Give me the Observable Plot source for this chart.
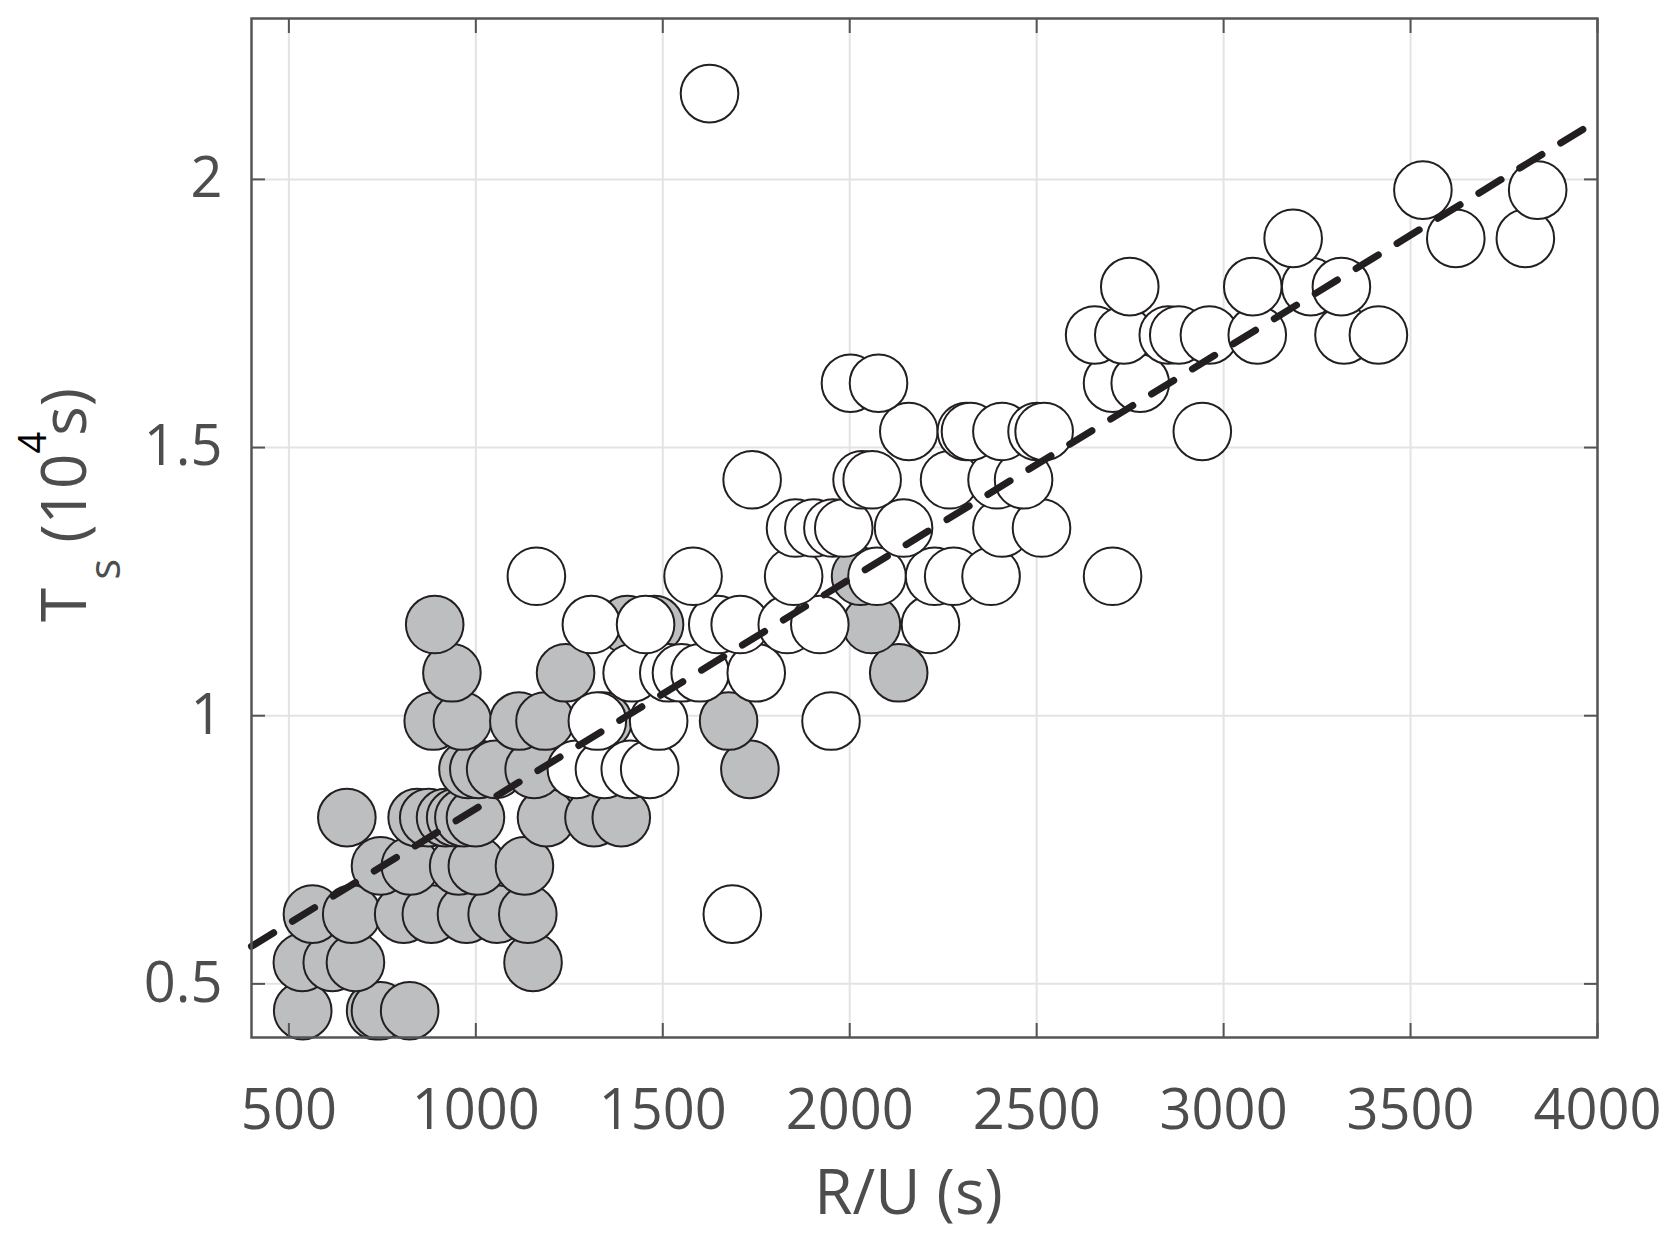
<!DOCTYPE html>
<html>
<head>
<meta charset="utf-8">
<script src="https://cdn.jsdelivr.net/npm/d3@7"></script>
<script src="https://cdn.jsdelivr.net/npm/@observablehq/plot@0.6"></script>
<style>
  html, body { margin: 0; padding: 0; background: #ffffff; }
  #chart svg { display: block; }
</style>
</head>
<body>
<div id="chart"></div>
<script>
// ---- tick values ----
const xTicks = [500, 1000, 1500, 2000, 2500, 3000, 3500, 4000];
const yTicks = [0.5, 1, 1.5, 2];

// ---- filled (grey) markers: R/U (s) and Ts (10^4 s) ----
const filledRU = [
  537, 732, 745, 823,
  536, 616, 678, 1153,
  563, 668, 807, 881, 975, 1057, 1139,
  745, 825, 954, 1004, 1130,
  655, 843, 874, 919, 946, 968, 999, 1189, 1316, 1389,
  979, 1008, 1053, 1156, 1733,
  886, 964, 1115, 1185, 1340, 1676,
  936, 1240, 2131,
  890, 1405, 1478, 2058,
  2029
];
const filledTs = [
  0.45, 0.45, 0.45, 0.45,
  0.54, 0.54, 0.54, 0.54,
  0.63, 0.63, 0.63, 0.63, 0.63, 0.63, 0.63,
  0.72, 0.72, 0.72, 0.72, 0.72,
  0.81, 0.81, 0.81, 0.81, 0.81, 0.81, 0.81, 0.81, 0.81, 0.81,
  0.9, 0.9, 0.9, 0.9, 0.9,
  0.99, 0.99, 0.99, 0.99, 0.99, 0.99,
  1.08, 1.08, 1.08,
  1.17, 1.17, 1.17, 1.17,
  1.26
];

// ---- open (white) markers ----
const openRU = [
  1686,
  1269, 1344, 1413, 1465,
  1325, 1489, 1950,
  1418, 1516, 1550, 1600, 1750,
  1309, 1454, 1647, 1707, 1833, 1920, 2216,
  1162, 1581, 1850, 2073, 2227, 2278, 2378, 2703,
  1855, 1904, 1955, 1984, 2144, 2407, 2513,
  1739, 2033, 2060, 2267, 2394, 2465,
  2158, 2312, 2323, 2407, 2501, 2520, 2943,
  2002, 2077, 2703, 2777,
  2655, 2733, 2852, 2880, 2962, 3090, 3322, 3414,
  2749, 3078, 3233, 3315,
  3186, 3621, 3807,
  3533, 3840,
  1625
];
const openTs = [
  0.63,
  0.9, 0.9, 0.9, 0.9,
  0.99, 0.99, 0.99,
  1.08, 1.08, 1.08, 1.08, 1.08,
  1.17, 1.17, 1.17, 1.17, 1.17, 1.17, 1.17,
  1.26, 1.26, 1.26, 1.26, 1.26, 1.26, 1.26, 1.26,
  1.35, 1.35, 1.35, 1.35, 1.35, 1.35, 1.35,
  1.44, 1.44, 1.44, 1.44, 1.44, 1.44,
  1.53, 1.53, 1.53, 1.53, 1.53, 1.53, 1.53,
  1.62, 1.62, 1.62, 1.62,
  1.71, 1.71, 1.71, 1.71, 1.71, 1.71, 1.71, 1.71,
  1.8, 1.8, 1.8, 1.8,
  1.89, 1.89, 1.89,
  1.98, 1.98,
  2.16
];

// ---- fitted line (endpoints) ----
const fitRU = [400, 4000];
const fitTs = [0.57, 2.11];

const filled = filledRU.map((x, i) => ({x, y: filledTs[i]}));
const open = openRU.map((x, i) => ({x, y: openTs[i]}));
const fit = fitRU.map((x, i) => ({x, y: fitTs[i]}));

const axisColor = "#555555";
const textColor = "#4d4d4d";

const plot = Plot.plot({
  width: 1671,
  height: 1241,
  marginLeft: 251,
  marginRight: 74,
  marginTop: 18,
  marginBottom: 204,
  style: {fontFamily: "'Open Sans', 'DejaVu Sans', sans-serif", background: "#ffffff", color: textColor},
  x: {domain: [400, 4000]},
  y: {domain: [0.4, 2.3]},
  marks: [
    Plot.gridX(xTicks, {stroke: "#e3e3e3", strokeOpacity: 1, strokeWidth: 2}),
    Plot.gridY(yTicks, {stroke: "#e3e3e3", strokeOpacity: 1, strokeWidth: 2}),
    Plot.dot(filled, {x: "x", y: "y", r: 28.8, fill: "#bcbec0", stroke: "#231f20", strokeWidth: 2}),
    Plot.dot(open, {x: "x", y: "y", r: 28.8, fill: "#ffffff", stroke: "#231f20", strokeWidth: 2}),
    Plot.line(fit, {x: "x", y: "y", stroke: "#231f20", strokeWidth: 7, strokeDasharray: "26,22"}),
    Plot.frame({stroke: axisColor, strokeWidth: 2.5}),
    // inward ticks on all four sides
    Plot.axisX(xTicks, {anchor: "bottom", tickSize: -14, fill: "none", label: null, stroke: axisColor, strokeWidth: 2}),
    Plot.axisX(xTicks, {anchor: "top", tickSize: -14, fill: "none", label: null, stroke: axisColor, strokeWidth: 2}),
    Plot.axisY(yTicks, {anchor: "left", tickSize: -14, fill: "none", label: null, stroke: axisColor, strokeWidth: 2}),
    Plot.axisY(yTicks, {anchor: "right", tickSize: -14, fill: "none", label: null, stroke: axisColor, strokeWidth: 2}),
    // tick labels and axis titles
    Plot.axisX(xTicks, {
      anchor: "bottom", tickSize: 0, tickPadding: 52, fontSize: 56, fill: textColor,
      tickFormat: d => String(d),
      label: "R/U (s)", labelAnchor: "center", labelArrow: "none", labelOffset: 176
    }),
    Plot.axisY(yTicks, {
      anchor: "left", tickSize: 0, tickPadding: 29, fontSize: 56, fill: textColor,
      tickFormat: d => String(d),
      label: "Ts (104s)", labelAnchor: "center", labelArrow: "none", labelOffset: 200
    })
  ]
});

document.getElementById("chart").appendChild(plot);

// Style axis titles (font size, sub/superscript of the y title)
const svg = d3.select(plot);
svg.selectAll('g[aria-label="x-axis label"] text')
  .attr("font-size", 62)
  .attr("dx", -16);
const yg = svg.select('g[aria-label="y-axis label"]');
yg.attr("transform", null);
const yl = yg.select("text");
yl.attr("transform", "translate(86,622) rotate(-90)")
  .attr("x", null).attr("y", null).attr("dy", null)
  .attr("text-anchor", "start")
  .attr("font-size", 62)
  .attr("fill", textColor);
yl.text(null);
yl.append("tspan").text("T");
yl.append("tspan").attr("font-size", 44).attr("dx", 8).attr("dy", 34).text("s");
yl.append("tspan").attr("dy", -34).text("\u00a0(10");
yl.append("tspan").attr("font-size", 38).attr("dy", -40).attr("fill", "#000000").text("4");
yl.append("tspan").attr("dx", -4).attr("dy", 40).text("s)");
</script>
</body>
</html>
